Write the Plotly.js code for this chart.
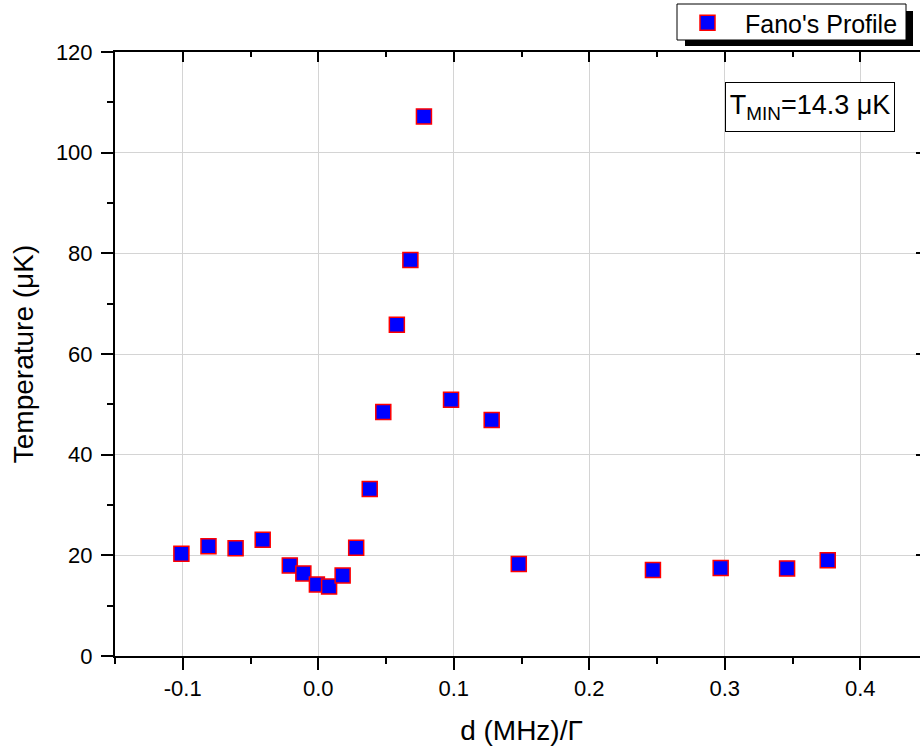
<!DOCTYPE html>
<html>
<head>
<meta charset="utf-8">
<script src="https://cdn.plot.ly/plotly-3.0.1.min.js"></script>
<style>
html, body { margin: 0; padding: 0; overflow: hidden; background: #fff; }
#chart { width: 940px; height: 749px; }
</style>
</head>
<body>
<div id="chart"></div>
<script>
// Data
const detuning = [-0.101, -0.081, -0.061, -0.041, -0.021, -0.011, -0.001, 0.008, 0.018, 0.028, 0.038, 0.048, 0.058, 0.068, 0.078, 0.098, 0.128, 0.148, 0.247, 0.297, 0.346, 0.376];
const temperature = [20.3, 21.8, 21.4, 23.1, 18.0, 16.4, 14.2, 13.8, 16.0, 21.5, 33.2, 48.5, 65.8, 78.7, 107.2, 50.9, 46.9, 18.3, 17.1, 17.5, 17.4, 19.0];
const xTickVals = [-0.1, 0.0, 0.1, 0.2, 0.3, 0.4];
const xTickText = ['-0.1', '0.0', '0.1', '0.2', '0.3', '0.4'];
const yTickVals = [0, 20, 40, 60, 80, 100, 120];
const yTickText = ['0', '20', '40', '60', '80', '100', '120'];
const seriesName = "Fano's Profile";
const noteText = 'T<sub>MIN</sub>=14.3 \u03bcK';

const FONT = 'Arial, "Liberation Sans", sans-serif';

const trace = {
  type: 'scatter',
  mode: 'markers',
  x: detuning,
  y: temperature,
  name: seriesName,
  showlegend: true,
  marker: { symbol: 'square', size: 15, color: '#0000ff', line: { color: '#ff0000', width: 1.5 } },
  hoverinfo: 'x+y'
};

// Plot geometry helpers (pixel -> paper) for decorations
const L = 115, R = 12, T = 52, B = 93, W = 940, H = 749;
const PW = W - L - R, PH = H - T - B;
const px = v => (v - L) / PW;
const py = v => (H - B - v) / PH;

const axisCommon = {
  showline: true, linecolor: '#000', linewidth: 2,
  tickcolor: '#000', tickwidth: 2,
  zeroline: false,
  tickfont: { family: FONT, size: 22, color: '#000' }
};

const layout = {
  width: W, height: H,
  margin: { l: L, r: R, t: T, b: B, pad: 0, autoexpand: false },
  paper_bgcolor: '#fff', plot_bgcolor: '#fff',
  font: { family: FONT, color: '#000' },
  showlegend: true,
  xaxis: Object.assign({}, axisCommon, {
    range: [-0.15, 0.45],
    tickmode: 'array', tickvals: xTickVals, ticktext: xTickText,
    ticks: 'outside', ticklen: 12,
    showgrid: true, gridcolor: '#d4d4d4', gridwidth: 1,
    minor: { tickmode: 'linear', tick0: -0.15, dtick: 0.05, ticks: 'outside', ticklen: 6, tickwidth: 2, tickcolor: '#000', showgrid: false },
    title: { text: 'd (MHz)/\u0393', font: { family: FONT, size: 28, color: '#000' }, standoff: 20 }
  }),
  yaxis: Object.assign({}, axisCommon, {
    range: [0, 120],
    tickmode: 'array', tickvals: yTickVals, ticktext: yTickText,
    ticks: 'outside', ticklen: 12, ticklabelstandoff: 4,
    showgrid: true, gridcolor: '#d4d4d4', gridwidth: 1,
    minor: { tickmode: 'linear', tick0: 0, dtick: 10, ticks: 'outside', ticklen: 6, tickwidth: 2, tickcolor: '#000', showgrid: false },
    title: { text: 'Temperature (\u03bcK)', font: { family: FONT, size: 28, color: '#000' }, standoff: 14 }
  }),
  xaxis2: Object.assign({}, axisCommon, {
    overlaying: 'x', side: 'top', anchor: 'y',
    range: [-0.15, 0.45],
    tickmode: 'array', tickvals: xTickVals, ticktext: xTickText,
    ticks: 'inside', ticklen: 10, showticklabels: false, showgrid: false,
    minor: { tickmode: 'linear', tick0: -0.15, dtick: 0.05, ticks: 'inside', ticklen: 5, tickwidth: 2, tickcolor: '#000', showgrid: false }
  }),
  yaxis2: Object.assign({}, axisCommon, {
    overlaying: 'y', side: 'right', anchor: 'x',
    range: [0, 120],
    tickmode: 'array', tickvals: yTickVals, ticktext: yTickText,
    ticks: 'inside', ticklen: 12, showticklabels: false, showgrid: false,
    minor: { tickmode: 'linear', tick0: 0, dtick: 10, ticks: 'inside', ticklen: 6, tickwidth: 2, tickcolor: '#000', showgrid: false }
  }),
  legend: {
    x: px(670), y: py(0), xanchor: 'left', yanchor: 'top',
    bgcolor: 'rgba(0,0,0,0)', borderwidth: 0,
    font: { family: FONT, size: 25, color: '#000' },
    itemwidth: 65
  },
  shapes: [
    // legend drop shadow
    { type: 'rect', xref: 'paper', yref: 'paper', layer: 'above',
      x0: px(685), x1: px(913), y0: py(46), y1: py(11),
      fillcolor: '#000', line: { width: 0 } },
    // legend frame
    { type: 'rect', xref: 'paper', yref: 'paper', layer: 'above',
      x0: px(677), x1: px(906), y0: py(40), y1: py(4),
      fillcolor: '#fff', line: { color: '#000', width: 1 } }
  ],
  annotations: [
    { xref: 'paper', yref: 'paper', x: px(810), y: py(106.5), xanchor: 'center', yanchor: 'middle',
      text: noteText, showarrow: false, height: 44, width: 164,
      font: { family: FONT, size: 27, color: '#000' },
      bgcolor: '#fff', bordercolor: '#000', borderwidth: 1, borderpad: 2 }
  ]
};

// invisible companion trace so the mirrored top/right axes are drawn
const frameTrace = { type: 'scatter', mode: 'markers', x: detuning, y: temperature, xaxis: 'x2', yaxis: 'y2',
  marker: { opacity: 0 }, showlegend: false, hoverinfo: 'skip' };

Plotly.newPlot('chart', [trace, frameTrace], layout, { displayModeBar: false, staticPlot: true });
</script>
</body>
</html>
